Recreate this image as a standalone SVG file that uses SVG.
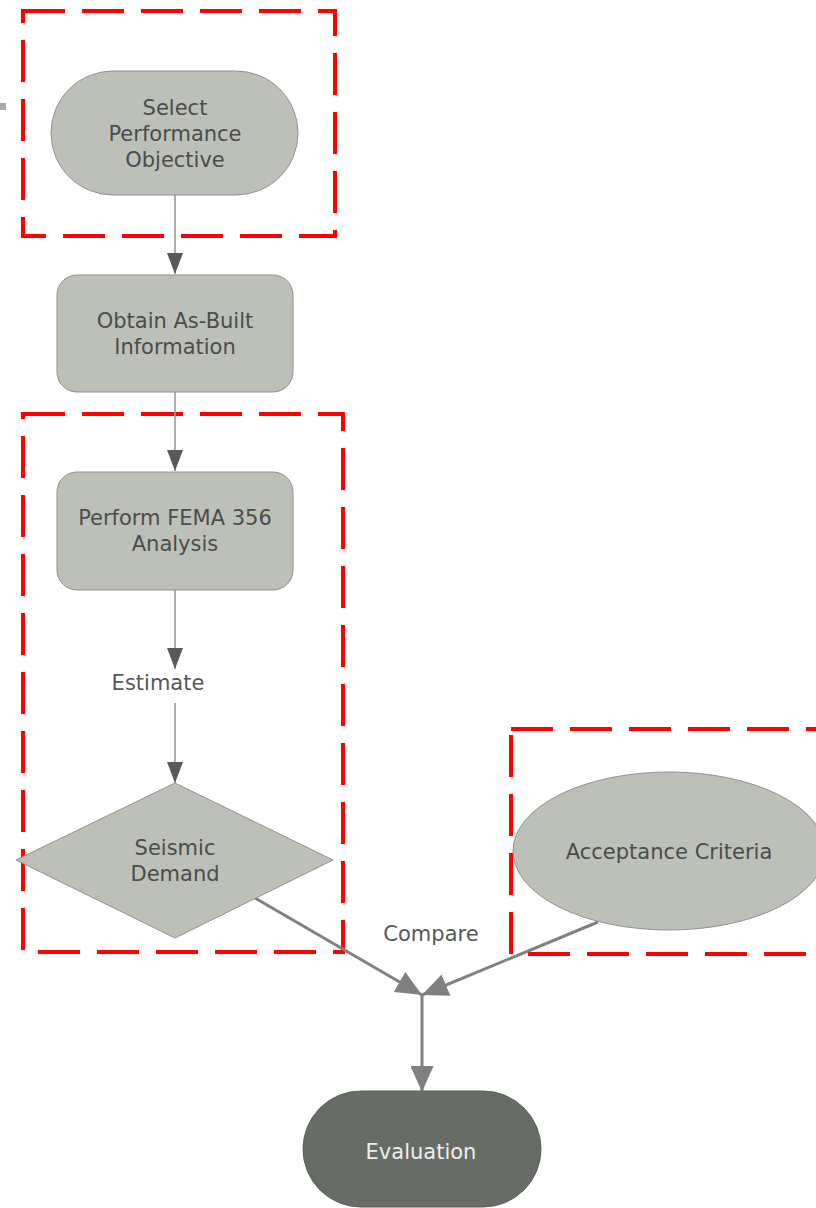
<svg xmlns="http://www.w3.org/2000/svg" width="816" height="1208" viewBox="0 0 816 1208">
<style>
.node{fill:#bdc0b9;stroke:#8f928d;stroke-width:1}
.t{font-family:"DejaVu Sans",Verdana,sans-serif;font-size:21px;fill:#4a4d49;text-anchor:middle}
.lbl{font-family:"DejaVu Sans",Verdana,sans-serif;font-size:21px;fill:#555855;text-anchor:middle}
.grp{fill:none;stroke:#ff0000;stroke-width:4;stroke-dasharray:42 17}
.thin{fill:none;stroke:#9a9c99;stroke-width:1.6}
.thick{fill:none;stroke:#808080;stroke-width:3}
</style>
<defs>
<marker id="ad" viewBox="0 0 21 16" refX="21" refY="8" markerWidth="21" markerHeight="16" markerUnits="userSpaceOnUse" orient="auto"><path d="M0,0 L21,8 L0,16 z" fill="#575a55"/></marker>
<marker id="ag" viewBox="0 0 26 23" refX="26" refY="11.5" markerWidth="26" markerHeight="23" markerUnits="userSpaceOnUse" orient="auto"><path d="M0,0 L26,11.5 L0,23 z" fill="#808080"/></marker>
</defs>
<rect x="0" y="103" width="6" height="7" fill="#a8a8a8"/>
<g id="groups">
<rect class="grp" x="23" y="11" width="312" height="225"/>
<rect class="grp" x="23" y="414" width="320" height="538"/>
<rect class="grp" x="511" y="729" width="330" height="225"/>
</g>
<g id="connectors">
<line class="thin" x1="175" y1="195" x2="175" y2="274" marker-end="url(#ad)"/>
<line class="thin" x1="175" y1="392" x2="175" y2="471" marker-end="url(#ad)"/>
<line class="thin" x1="175" y1="590" x2="175" y2="669" marker-end="url(#ad)"/>
<line class="thin" x1="175" y1="703" x2="175" y2="783" marker-end="url(#ad)"/>
<line class="thick" x1="255" y1="898" x2="422" y2="995" marker-end="url(#ag)"/>
<line class="thick" x1="598" y1="922" x2="422" y2="995" marker-end="url(#ag)"/>
<line class="thick" x1="422" y1="995" x2="422" y2="1092" marker-end="url(#ag)"/>
<text class="lbl" x="158" y="690">Estimate</text>
<text class="lbl" x="431" y="941">Compare</text>
</g>
<g id="n1">
<rect class="node" x="51" y="71" width="247" height="124" rx="62" ry="62"/>
<text class="t" x="175" y="115">Select</text>
<text class="t" x="175" y="141">Performance</text>
<text class="t" x="175" y="167">Objective</text>
</g>
<g id="n2">
<rect class="node" x="57" y="275" width="236" height="117" rx="20" ry="20"/>
<text class="t" x="175" y="328">Obtain As-Built</text>
<text class="t" x="175" y="354">Information</text>
</g>
<g id="n3">
<rect class="node" x="57" y="472" width="236" height="118" rx="20" ry="20"/>
<text class="t" x="175" y="525">Perform FEMA 356</text>
<text class="t" x="175" y="551">Analysis</text>
</g>
<g id="n4">
<polygon class="node" points="175,783 333,860 175,938 16,860"/>
<text class="t" x="175" y="855">Seismic</text>
<text class="t" x="175" y="881">Demand</text>
</g>
<g id="n5">
<ellipse class="node" cx="669" cy="851" rx="156" ry="79"/>
<text class="t" x="669" y="859">Acceptance Criteria</text>
</g>
<g id="n6">
<rect x="303" y="1091" width="238" height="116" rx="58" ry="58" fill="#686c66" stroke="#5a5d58" stroke-width="1"/>
<text class="t" x="421" y="1159" style="fill:#eeeeee">Evaluation</text>
</g>
</svg>
